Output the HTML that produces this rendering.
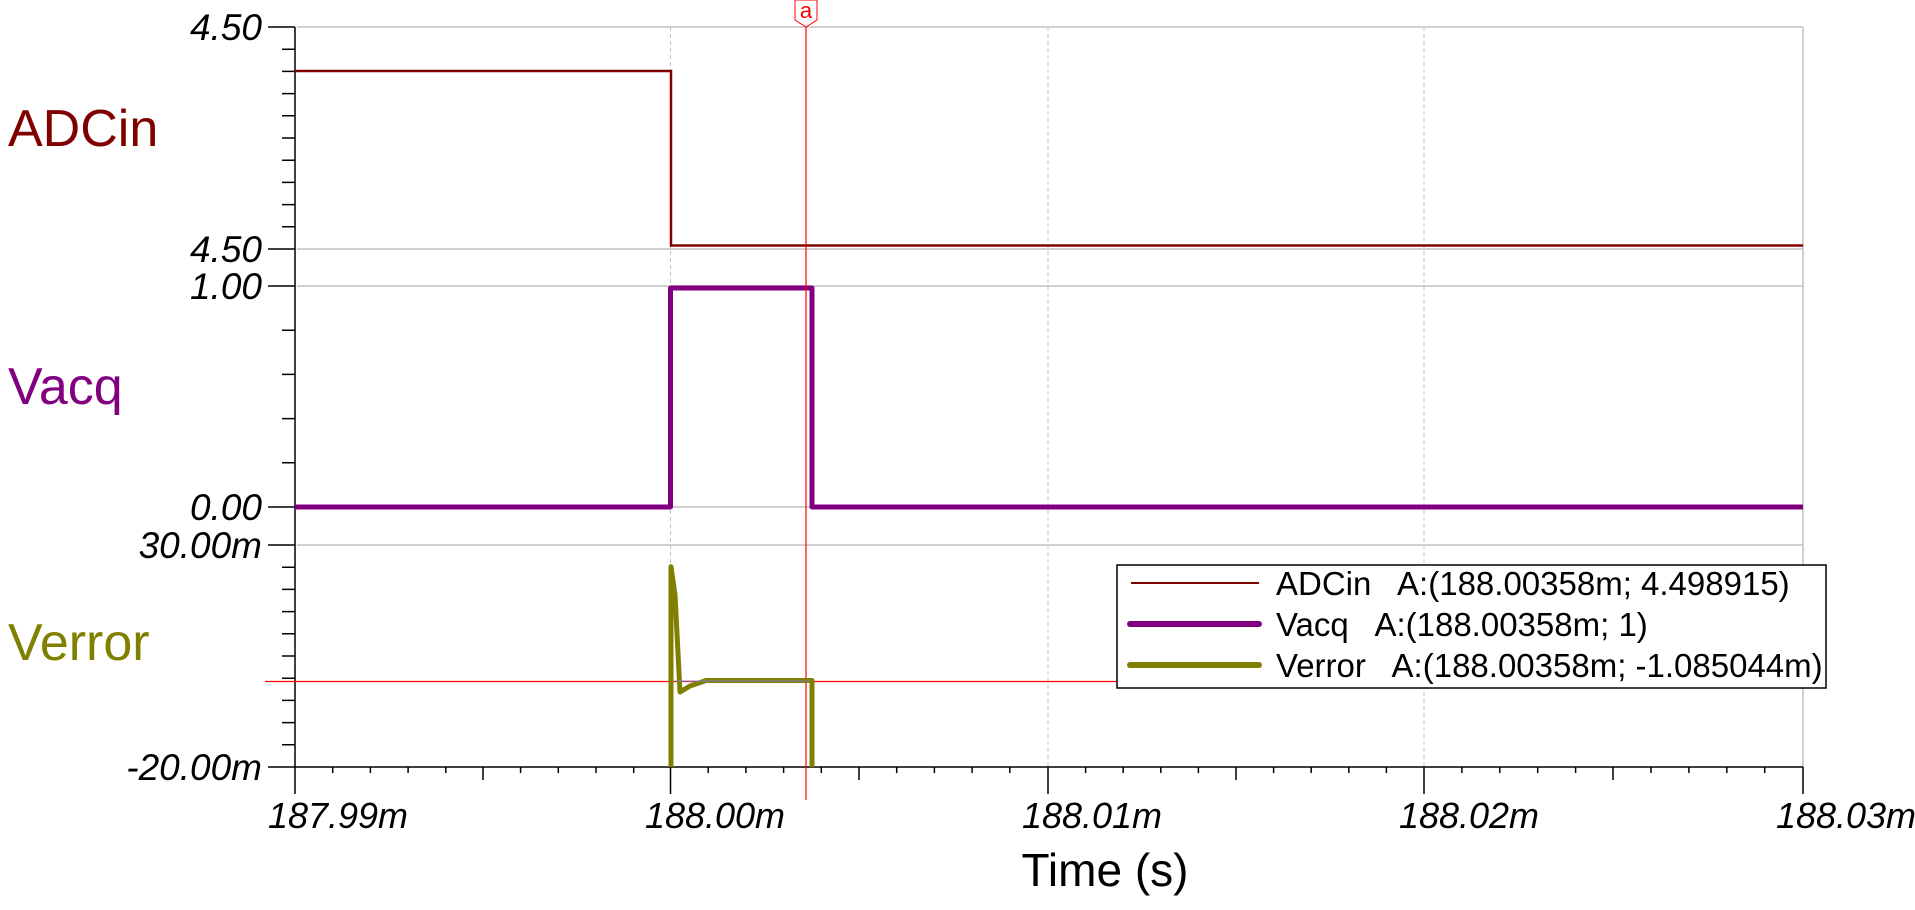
<!DOCTYPE html>
<html><head><meta charset="utf-8"><style>
html,body{margin:0;padding:0;background:#fff;}
svg{display:block;}
text{font-family:"Liberation Sans",sans-serif;}
</style></head><body>
<svg width="1915" height="910" viewBox="0 0 1915 910" xmlns="http://www.w3.org/2000/svg">
<rect width="1915" height="910" fill="#fff"/>
<g stroke="#c0c0c0" stroke-width="1.5">
<line x1="297" y1="27" x2="1803" y2="27"/>
<line x1="297" y1="249" x2="1803" y2="249"/>
<line x1="297" y1="286" x2="1803" y2="286"/>
<line x1="297" y1="507" x2="1803" y2="507"/>
<line x1="297" y1="545" x2="1803" y2="545"/>
<line x1="1803" y1="27" x2="1803" y2="767"/>
</g>
<g stroke="#c0c0c0" stroke-width="1" stroke-dasharray="4,3">
<line x1="670.5" y1="27" x2="670.5" y2="767"/>
<line x1="1048" y1="27" x2="1048" y2="767"/>
<line x1="1424" y1="27" x2="1424" y2="767"/>
</g>
<g stroke="#000" stroke-width="1.5">
<line x1="295" y1="27" x2="295" y2="794"/>
<line x1="295" y1="767" x2="1803" y2="767"/>
<line x1="268" y1="27" x2="295" y2="27"/>
<line x1="268" y1="249" x2="295" y2="249"/>
<line x1="268" y1="286" x2="295" y2="286"/>
<line x1="268" y1="507" x2="295" y2="507"/>
<line x1="268" y1="545" x2="295" y2="545"/>
<line x1="268" y1="767" x2="295" y2="767"/>
<path d="M282 49.2H295M282 71.4H295M282 93.6H295M282 115.8H295M282 138H295M282 160.2H295M282 182.4H295M282 204.6H295M282 226.8H295"/>
<path d="M282 330.2H295M282 374.4H295M282 418.6H295M282 462.8H295"/>
<path d="M282 567.2H295M282 589.4H295M282 611.6H295M282 633.8H295M282 656H295M282 678.2H295M282 700.4H295M282 722.6H295M282 744.8H295"/>
<path d="M670.5 767V794M1048 767V794M1424 767V794M1803 767V794"/>
<path d="M483 767V780M859 767V780M1236 767V780M1613 767V780"/>
<path d="M332.7 767V773M370.4 767V773M408.1 767V773M445.8 767V773M520.6 767V773M558.3 767V773M596 767V773M633.7 767V773
M708.2 767V773M745.9 767V773M783.6 767V773M821.3 767V773M896.7 767V773M934.4 767V773M972.1 767V773M1009.8 767V773
M1085.6 767V773M1123.2 767V773M1160.8 767V773M1198.4 767V773M1273.6 767V773M1311.2 767V773M1348.8 767V773M1386.4 767V773
M1461.9 767V773M1499.8 767V773M1537.7 767V773M1575.6 767V773M1651 767V773M1688.9 767V773M1726.8 767V773M1764.7 767V773"/>
</g>
<g font-size="37" font-style="italic" text-anchor="end" fill="#000">
<text x="262" y="40">4.50</text>
<text x="262" y="262">4.50</text>
<text x="262" y="299">1.00</text>
<text x="262" y="520">0.00</text>
<text x="262" y="558">30.00m</text>
<text x="262" y="780">-20.00m</text>
</g>
<text x="8" y="146" font-size="52" fill="#800000">ADCin</text>
<text x="8" y="404" font-size="52" fill="#800080">Vacq</text>
<text x="8" y="660" font-size="52" fill="#808000">Verror</text>
<g font-size="36" font-style="italic" text-anchor="middle" fill="#000">
<text x="338" y="828">187.99m</text>
<text x="715" y="828">188.00m</text>
<text x="1092" y="828">188.01m</text>
<text x="1469" y="828">188.02m</text>
<text x="1846" y="828">188.03m</text>
</g>
<text x="1105" y="886" font-size="46" text-anchor="middle" fill="#000">Time (s)</text>
<path d="M295 71H671V245.5H1803" fill="none" stroke="#800000" stroke-width="2.5"/>
<path d="M295 507H670.5V288H812V507H1803" fill="none" stroke="#800080" stroke-width="5" stroke-linejoin="round"/>
<line x1="806" y1="24" x2="806" y2="800" stroke="#ff0000" stroke-width="1.2"/>
<line x1="265" y1="681.5" x2="1803" y2="681.5" stroke="#ff0000" stroke-width="1.2"/>
<path d="M795 0V20L806 27L817 20V0Z" fill="#fff" stroke="#ff0000" stroke-width="1"/>
<text x="806" y="18" font-size="22" text-anchor="middle" fill="#ff0000">a</text>
<path d="M671 767V566.7L675 595L680 692L690 686L706 680.5H812V767" fill="none" stroke="#808000" stroke-width="5" stroke-linejoin="round"/>
<line x1="675" y1="681" x2="810" y2="681" stroke="#8080c0" stroke-width="1"/>
<rect x="1117" y="565" width="709" height="123" fill="#fff" stroke="#000" stroke-width="1.5"/>
<line x1="1131" y1="583" x2="1259" y2="583" stroke="#800000" stroke-width="2"/>
<line x1="1130" y1="624" x2="1259" y2="624" stroke="#800080" stroke-width="6" stroke-linecap="round"/>
<line x1="1130" y1="665" x2="1259" y2="665" stroke="#808000" stroke-width="6" stroke-linecap="round"/>
<g font-size="33" fill="#000">
<text x="1276" y="595" xml:space="preserve">ADCin   A:(188.00358m; 4.498915)</text>
<text x="1276" y="636" xml:space="preserve">Vacq   A:(188.00358m; 1)</text>
<text x="1276" y="677" xml:space="preserve">Verror   A:(188.00358m; -1.085044m)</text>
</g>
</svg>
</body></html>
